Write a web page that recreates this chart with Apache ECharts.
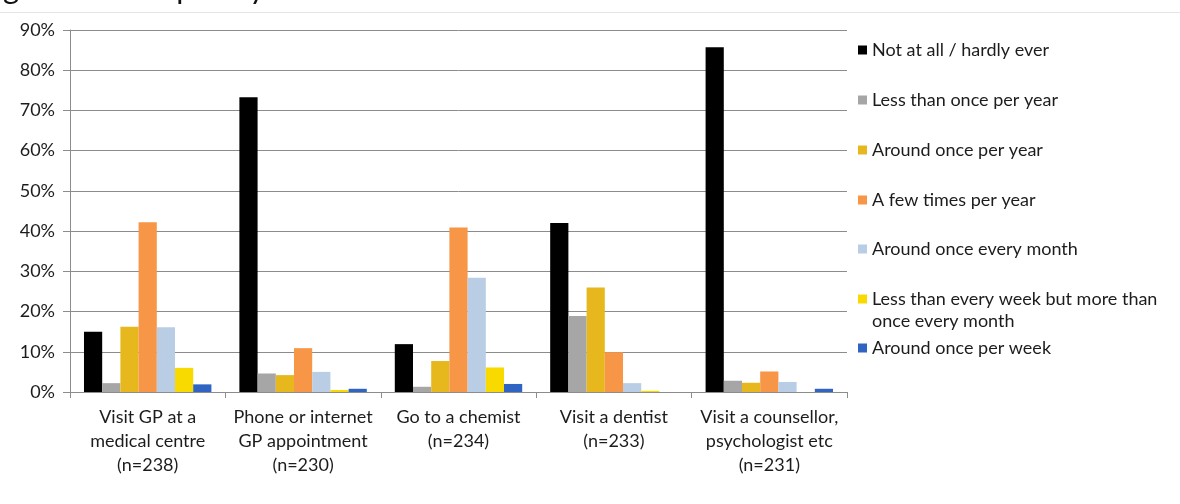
<!DOCTYPE html>
<html>
<head>
<meta charset="utf-8">
<script src="https://cdn.jsdelivr.net/npm/echarts@6/dist/echarts.min.js"></script>
<style>
  html, body { margin: 0; padding: 0; background: #ffffff; }
  #chart { width: 1180px; height: 504px; }
</style>
</head>
<body>
<div id="chart"></div>
<script>
// Service categories (x axis)
const categories = [
  'Visit GP at a\nmedical centre\n(n=238)',
  'Phone or internet\nGP appointment\n(n=230)',
  'Go to a chemist\n(n=234)',
  'Visit a dentist\n(n=233)',
  'Visit a counsellor,\npsychologist etc\n(n=231)'
];

// Frequency bands (series), in legend order
const seriesNames = [
  'Not at all / hardly ever',
  'Less than once per year',
  'Around once per year',
  'A few times per year',
  'Around once every month',
  'Less than every week but more than\nonce every month',
  'Around once per week'
];

// Percentage of respondents per category
const notAtAll      = [15.0, 73.3, 11.9, 42.0, 85.7];
const lessThanYear  = [2.2, 4.6, 1.3, 18.9, 2.8];
const oncePerYear   = [16.2, 4.2, 7.7, 26.0, 2.3];
const fewTimesYear  = [42.2, 10.9, 40.9, 9.9, 5.1];
const oncePerMonth  = [16.1, 5.0, 28.4, 2.2, 2.5];
const weeklyMonthly = [6.0, 0.5, 6.1, 0.3, 0.0];
const oncePerWeek   = [1.9, 0.8, 2.0, 0.0, 0.8];

// Y axis ticks (percent)
const yTicks = [0, 10, 20, 30, 40, 50, 60, 70, 80, 90];

const seriesValues = [notAtAll, lessThanYear, oncePerYear, fewTimesYear, oncePerMonth, weeklyMonthly, oncePerWeek];
const colors = ['#000000', '#a6a6a6', '#e6b81e', '#f79646', '#b9cde5', '#f8da00', '#2f64c2'];

const FONT = 'Lato';
const TEXT = '#1c1c1c';

// One legend block per entry so each row sits at its own height.
// A wrapped entry gets an empty leading line so its marker lines up with the first text line.
const legendRowCenters = [50, 100, 150, 200, 249, 299, 348];
const legends = seriesNames.map((name, i) => {
  const twoLines = name.indexOf('\n') >= 0;
  return {
    data: [name],
    orient: 'vertical',
    left: 858,
    top: twoLines ? legendRowCenters[i] - 33 : legendRowCenters[i] - 11,
    padding: 0,
    itemWidth: 9,
    itemHeight: 9,
    itemGap: 0,
    icon: 'rect',
    selectedMode: false,
    formatter: twoLines ? (n => '\n' + n) : (n => n),
    textStyle: {
      fontFamily: FONT,
      fontSize: 18,
      color: TEXT,
      lineHeight: 22
    }
  };
});

const chart = echarts.init(document.getElementById('chart'), null, { renderer: 'canvas' });

chart.setOption({
  animation: false,
  backgroundColor: '#ffffff',
  color: colors,
  title: {
    text: 'Figure 12: Frequency',
    left: -22,
    top: -27,
    padding: 0,
    textStyle: { fontFamily: FONT, fontSize: 31, fontWeight: 'normal', color: '#111' }
  },
  graphic: [{
    type: 'line',
    shape: { x1: 0, y1: 12.5, x2: 1180, y2: 12.5 },
    style: { stroke: '#e4e4e4', lineWidth: 1 },
    silent: true
  }],
  legend: legends,
  grid: { left: 70, right: 333, top: 30, bottom: 112, containLabel: false },
  xAxis: {
    type: 'category',
    data: categories,
    boundaryGap: true,
    axisLine: { show: true, lineStyle: { color: '#8c8c8c', width: 1 } },
    axisTick: { show: true, length: 6, lineStyle: { color: '#8c8c8c' } },
    axisLabel: {
      interval: 0,
      margin: 13,
      fontFamily: FONT,
      fontSize: 18,
      lineHeight: 24,
      color: TEXT,
      align: 'center'
    }
  },
  yAxis: {
    type: 'value',
    min: yTicks[0],
    max: yTicks[yTicks.length - 1],
    interval: yTicks[1] - yTicks[0],
    axisLine: { show: true, lineStyle: { color: '#8c8c8c', width: 1 } },
    axisTick: { show: true, length: 7, lineStyle: { color: '#8c8c8c' } },
    splitLine: { show: true, lineStyle: { color: '#8c8c8c', width: 1 } },
    axisLabel: {
      formatter: '{value}%',
      margin: 15,
      fontFamily: FONT,
      fontSize: 18,
      color: TEXT
    }
  },
  series: seriesNames.map((name, i) => ({
    name: name,
    type: 'bar',
    data: seriesValues[i],
    barGap: '0%',
    barCategoryGap: '18%',
    itemStyle: { color: colors[i] }
  }))
});
</script>
</body>
</html>
